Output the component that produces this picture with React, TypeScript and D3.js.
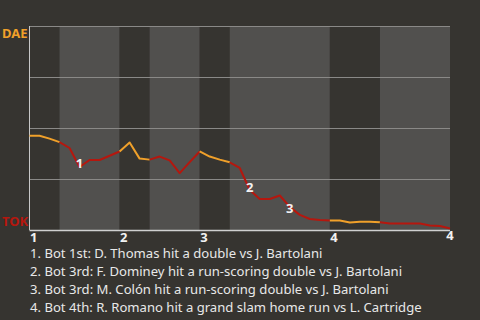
import React from "react";
import * as d3 from "d3";

// DAE win probability (%) after each plate appearance (index 0..42)
const winProb = [
  46.2, 46.2, 44.8, 43.1, 40.2, 30.9, 34.3, 34.3, 36.4, 38.5,
  42.9, 35.0, 34.5, 36.0, 34.1, 27.9, 33.3, 38.5, 36.0, 34.5,
  33.2, 30.4, 19.6, 15.2, 15.2, 16.9, 11.3, 7.4, 5.4, 4.9,
  4.7, 4.7, 3.7, 4.1, 4.1, 3.8, 3.2, 3.2, 3.2, 3.2,
  2.2, 2.0, 0.7,
];
// plate-appearance index where each half inning starts (last = end of game)
const halfInningStarts = [0, 3, 9, 12, 17, 20, 30, 35, 42];
const inningTickIdx = [0, 9, 17, 30];
const inningTickLabels = ["1", "2", "3", "4"];
const eventIdx = [5, 22, 26, 42];
const eventLabels = ["1", "2", "3", "4"];
const eventDy = [-3, -2, 2, 7];
const eventTexts = [
  "1. Bot 1st: D. Thomas hit a double vs J. Bartolani",
  "2. Bot 3rd: F. Dominey hit a run-scoring double vs J. Bartolani",
  "3. Bot 3rd: M. Colón hit a run-scoring double vs J. Bartolani",
  "4. Bot 4th: R. Romano hit a grand slam home run vs L. Cartridge",
];
const teamTop = "DAE";
const teamBottom = "TOK";
const gridValues = [0, 25, 50, 75, 100];

const BG = "#363430";
const LIGHT = "#51504e";
const ORANGE = "#f0a02a";
const RED = "#b5170e";
const FONT = "'Noto Sans', sans-serif";

export default function App() {
  const W = 480, H = 320;
  const x = d3.scaleLinear().domain([0, winProb.length - 1]).range([29.5, 450]);
  const y = d3.scaleLinear().domain([0, 100]).range([230, 26]);
  const line = d3
    .line<number>()
    .x((_, i) => x(i))
    .y((d) => y(d));

  const halves = d3.range(halfInningStarts.length - 1).map((k) => ({
    start: halfInningStarts[k],
    end: halfInningStarts[k + 1],
    top: k % 2 === 0,
  }));

  return (
    <svg
      width={W}
      height={H}
      style={{ position: "fixed", left: 0, top: 0, background: BG, fontFamily: FONT }}
    >
      <rect x={0} y={0} width={W} height={H} fill={BG} />
      {halves.map((h, k) => (
        <rect
          key={k}
          x={x(h.start)}
          y={y(100)}
          width={x(h.end) - x(h.start)}
          height={y(0) - y(100)}
          fill={h.top ? BG : LIGHT}
        />
      ))}
      {gridValues.map((g) => (
        <line
          key={g}
          x1={x(0)}
          x2={x(winProb.length - 1)}
          y1={Math.round(y(g)) + 0.5}
          y2={Math.round(y(g)) + 0.5}
          stroke={g === 0 ? "#d0d0d0" : "#8a8987"}
          strokeWidth={g === 0 ? 1.5 : 1}
        />
      ))}
      <line x1={29.5} x2={29.5} y1={y(100)} y2={y(0)} stroke="#c8c8c8" strokeWidth={1} />
      {halves.map((h, k) => (
        <path
          key={k}
          d={line(winProb.slice(h.start, h.end + 1)) ?? ""}
          transform={`translate(${x(h.start) - x(0)},0)`}
          fill="none"
          stroke={h.top ? ORANGE : RED}
          strokeWidth={2}
          strokeLinejoin="round"
        />
      ))}
      {eventIdx.map((e, k) => (
        <text
          key={k}
          x={x(e)}
          y={y(winProb[e]) + 4 + eventDy[k]}
          textAnchor="middle"
          fill="#f2f2f2"
          fontSize={13}
          fontWeight="bold"
        >
          {eventLabels[k]}
        </text>
      ))}
      {inningTickIdx.map((t, k) => (
        <text key={k} x={x(t) + 0.5} y={242} fill="#f2f2f2" fontSize={13} fontWeight="bold">
          {inningTickLabels[k]}
        </text>
      ))}
      <text x={2} y={38} fill={ORANGE} fontSize={13} fontWeight="bold">
        {teamTop}
      </text>
      <text x={2} y={226} fill={RED} fontSize={13} fontWeight="bold">
        {teamBottom}
      </text>
      {eventTexts.map((t, k) => (
        <text key={k} x={30} y={258 + k * 18} fill="#e8e8e8" fontSize={13.1}>
          {t}
        </text>
      ))}
    </svg>
  );
}
